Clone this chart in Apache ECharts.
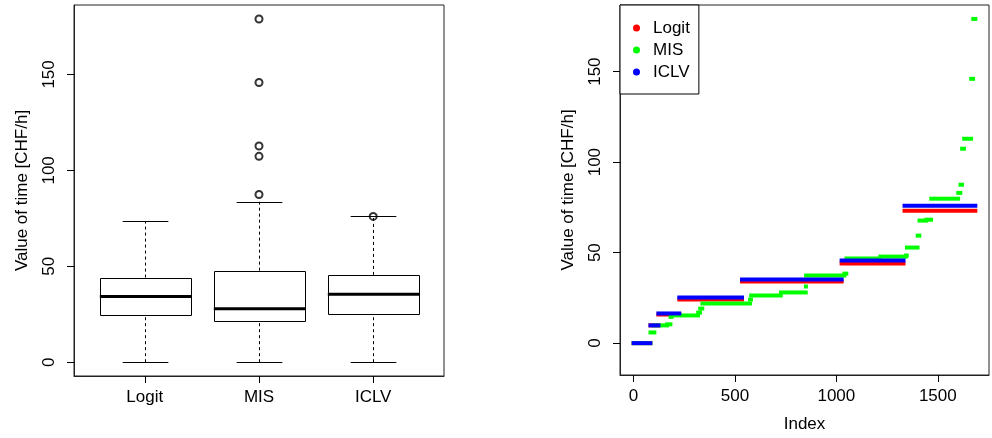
<!DOCTYPE html>
<html>
<head>
<meta charset="utf-8">
<script src="https://cdn.jsdelivr.net/npm/echarts@6/dist/echarts.min.js"></script>
<style>
  html, body { margin: 0; padding: 0; background: #fff; }
  #chart { width: 992px; height: 438px; }
</style>
</head>
<body>
<div id="chart"></div>
<script>
// left panel: boxplot stats
const boxNames = ['Logit', 'MIS', 'ICLV']
// [position, lower whisker, Q1, median, Q3, upper whisker]
const boxStats = [
  [1, 0, 24.6, 34.3, 44.1, 73.5],
  [2, 0, 21.6, 27.9, 47.7, 83.6],
  [3, 0, 25.3, 35.4, 45.5, 76.0]
]
const outliers = [
  [2, 87.4], [2, 107.3], [2, 112.7], [2, 145.8], [2, 178.9],
  [3, 76.0]
]
const boxTicks = [0, 50, 100, 150]

// right panel: sorted values as runs [first index, last index, value]
const logitRuns = [
  [1, 83, 0], [84, 123, 9.8], [123, 226, 15.8], [226, 535, 24.1],
  [535, 1026, 34.0], [1026, 1331, 44.0], [1336, 1685, 73.2]
]
const misRuns = [
  [1, 83, 0], [84, 103, 5.9], [104, 165, 9.8], [166, 182, 10.4],
  [183, 187, 14.5], [188, 318, 15.3], [319, 328, 16.9], [329, 339, 19.1],
  [340, 574, 21.9], [575, 579, 24.1], [580, 726, 26.3], [727, 849, 28.0],
  [850, 850, 31.3], [851, 1039, 37.3], [1040, 1049, 38.4], [1050, 1216, 46.7],
  [1217, 1342, 47.8], [1343, 1347, 48.4], [1348, 1400, 52.8], [1401, 1409, 59.4],
  [1410, 1443, 67.7], [1444, 1467, 68.2], [1468, 1600, 79.8], [1601, 1611, 83.0],
  [1612, 1619, 87.5], [1620, 1629, 107.4], [1630, 1664, 112.9], [1665, 1674, 146.0],
  [1675, 1685, 179.1]
]
const iclvRuns = [
  [1, 83, 0], [84, 123, 9.8], [123, 226, 16.4], [226, 535, 25.2],
  [535, 1026, 35.1], [1026, 1331, 45.6], [1336, 1685, 75.9]
]
const indexTicks = [0, 500, 1000, 1500]
const valueTicks = [0, 50, 100, 150]

const FONT = "'Liberation Sans', Arial, sans-serif"
const colors = { Logit: '#ff0000', MIS: '#00ff00', ICLV: '#0000ff' }

const chart = echarts.init(document.getElementById('chart'))

function renderBox(params, api) {
  const x = api.value(0)
  const lo = api.value(1), q1 = api.value(2), med = api.value(3), q3 = api.value(4), hi = api.value(5)
  const pLo = api.coord([x, lo]), pQ1 = api.coord([x, q1]), pMed = api.coord([x, med])
  const pQ3 = api.coord([x, q3]), pHi = api.coord([x, hi])
  const halfBox = api.coord([x + 0.4, 0])[0] - pLo[0]
  const halfCap = halfBox / 2
  const cx = Math.round(pLo[0]) + 0.5
  const solid = { stroke: '#000', lineWidth: 1, fill: null }
  const dashed = { stroke: '#000', lineWidth: 1, lineDash: [3, 3], fill: null }
  return {
    type: 'group',
    children: [
      { type: 'line', shape: { x1: cx, y1: pLo[1], x2: cx, y2: pQ1[1] }, style: dashed },
      { type: 'line', shape: { x1: cx, y1: pQ3[1], x2: cx, y2: pHi[1] }, style: dashed },
      { type: 'line', shape: { x1: cx - halfCap, y1: Math.round(pLo[1]) + 0.5, x2: cx + halfCap, y2: Math.round(pLo[1]) + 0.5 }, style: solid },
      { type: 'line', shape: { x1: cx - halfCap, y1: Math.round(pHi[1]) + 0.5, x2: cx + halfCap, y2: Math.round(pHi[1]) + 0.5 }, style: solid },
      { type: 'rect', shape: { x: Math.round(cx - halfBox) + 0.5, y: Math.round(pQ3[1]) + 0.5, width: Math.round(2 * halfBox), height: Math.round(pQ1[1] - pQ3[1]) },
        style: { stroke: '#000', lineWidth: 1, fill: '#fff' } },
      { type: 'line', shape: { x1: cx - halfBox, y1: pMed[1], x2: cx + halfBox, y2: pMed[1] }, style: { stroke: '#000', lineWidth: 3 } }
    ]
  }
}

function runRenderer(color) {
  return function (params, api) {
    const a = api.coord([api.value(0), api.value(2)])
    const b = api.coord([api.value(1), api.value(2)])
    return {
      type: 'rect',
      shape: { x: a[0] - 2, y: a[1] - 2, width: b[0] - a[0] + 4, height: 4 },
      style: { fill: color }
    }
  }
}

const axisText = { color: '#000', fontSize: 17, fontFamily: FONT }
const axisLineStyle = { show: true, onZero: false, lineStyle: { color: '#222', width: 1 } }
const tickStyle = { show: true, inside: false, length: 7, lineStyle: { color: '#000', width: 1 } }

function valueYAxis(gridIndex, min, max, ticks) {
  return {
    type: 'value', gridIndex: gridIndex, min: min, max: max,
    name: 'Value of time [CHF/h]', nameLocation: 'middle', nameGap: 43,
    nameTextStyle: axisText,
    axisLine: axisLineStyle,
    axisTick: Object.assign({ customValues: ticks }, tickStyle),
    axisLabel: Object.assign({ rotate: 90, margin: 16, customValues: ticks, formatter: v => String(v) }, axisText),
    splitLine: { show: false }
  }
}

const option = {
  animation: false,
  backgroundColor: '#fff',
  grid: [
    { left: 74, top: 5, width: 370, height: 371, show: true, borderColor: '#222', borderWidth: 1, backgroundColor: 'transparent' },
    { left: 620, top: 5, width: 369, height: 371, show: true, borderColor: '#222', borderWidth: 1, backgroundColor: 'transparent' }
  ],
  legend: {
    data: boxNames,
    orient: 'vertical',
    left: 620, top: 5,
    padding: [12, 9, 11, 13],
    itemGap: 0,
    itemWidth: 7, itemHeight: 7,
    icon: 'circle',
    borderColor: '#000', borderWidth: 1,
    backgroundColor: '#fff',
    selectedMode: false,
    textStyle: { color: '#000', fontSize: 17, fontFamily: FONT, lineHeight: 22, padding: [0, 0, 0, 8] }
  },
  xAxis: [
    {
      type: 'value', gridIndex: 0, min: 0.38, max: 3.62,
      axisLine: axisLineStyle,
      axisTick: Object.assign({ customValues: [1, 2, 3] }, tickStyle),
      axisLabel: Object.assign({ margin: 13, customValues: [1, 2, 3], formatter: v => boxNames[Math.round(v) - 1] }, axisText),
      splitLine: { show: false }
    },
    {
      type: 'value', gridIndex: 1, min: -66.4, max: 1752.4,
      name: 'Index', nameLocation: 'middle', nameGap: 41, nameTextStyle: axisText,
      axisLine: axisLineStyle,
      axisTick: Object.assign({ customValues: indexTicks }, tickStyle),
      axisLabel: Object.assign({ margin: 13, customValues: indexTicks, formatter: v => String(v) }, axisText),
      splitLine: { show: false }
    }
  ],
  yAxis: [
    valueYAxis(0, -7.2, 186.2, boxTicks),
    valueYAxis(1, -17.6, 186.8, valueTicks)
  ],
  series: [
    {
      name: 'box', type: 'custom', xAxisIndex: 0, yAxisIndex: 0,
      renderItem: renderBox, data: boxStats, silent: true
    },
    {
      name: 'outliers', type: 'scatter', xAxisIndex: 0, yAxisIndex: 0,
      symbol: 'circle', symbolSize: 7, data: outliers, silent: true, z: 5,
      itemStyle: { color: 'rgba(0,0,0,0)', borderColor: '#000', borderWidth: 2 }
    },
    {
      name: 'Logit', type: 'custom', xAxisIndex: 1, yAxisIndex: 1, z: 2,
      itemStyle: { color: colors.Logit }, renderItem: runRenderer(colors.Logit), data: logitRuns
    },
    {
      name: 'MIS', type: 'custom', xAxisIndex: 1, yAxisIndex: 1, z: 3,
      itemStyle: { color: colors.MIS }, renderItem: runRenderer(colors.MIS), data: misRuns
    },
    {
      name: 'ICLV', type: 'custom', xAxisIndex: 1, yAxisIndex: 1, z: 4,
      itemStyle: { color: colors.ICLV }, renderItem: runRenderer(colors.ICLV), data: iclvRuns
    }
  ]
}

chart.setOption(option)
</script>
</body>
</html>
